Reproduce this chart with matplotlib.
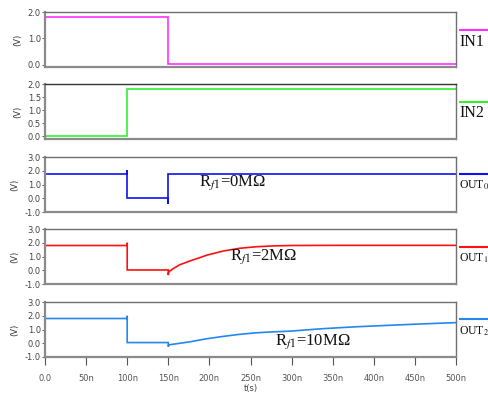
import matplotlib
matplotlib.use("Agg")
import matplotlib.pyplot as plt
from matplotlib.lines import Line2D

# ---- data (time in ns, voltage in V) ----
t_in1 = [0, 150, 150, 500]
v_in1 = [1.8, 1.8, 0.02, 0.02]

t_in2 = [0, 100, 100, 500]
v_in2 = [0.02, 0.02, 1.8, 1.8]

t_out0 = [0, 100, 100, 100, 150, 150, 150, 500]
v_out0 = [1.8, 1.8, 2.05, 0.0, 0.0, -0.4, 1.8, 1.8]

t_out1 = [0, 100, 100, 100, 150, 150, 150.5, 156, 164, 176, 189, 197, 217, 237, 257, 278, 300, 350, 400, 500]
v_out1 = [1.8, 1.8, 2.0, 0.02, 0.02, -0.35, -0.12, 0.12, 0.4, 0.67, 0.93, 1.1, 1.4, 1.6, 1.71, 1.77, 1.8, 1.81, 1.81, 1.81]

t_out2 = [0, 100, 100, 100, 150, 150, 150.5, 156, 176, 197, 217, 237, 257, 278, 298, 338, 379, 420, 460, 500]
v_out2 = [1.8, 1.8, 2.0, 0.05, 0.05, -0.25, -0.12, -0.07, 0.1, 0.33, 0.5, 0.65, 0.76, 0.83, 0.88, 1.06, 1.2, 1.31, 1.41, 1.5]

x_ticks = [0, 50, 100, 150, 200, 250, 300, 350, 400, 450, 500]
x_ticklabels = ["0.0", "50n", "100n", "150n", "200n", "250n", "300n", "350n", "400n", "450n", "500n"]

series = [
    (t_in1, v_in1, "#ff30ff", (-0.09, 2.0), [0, 1, 2], ["0.0", "1.0", "2.0"]),
    (t_in2, v_in2, "#30f030", (-0.1, 2.0), [0, 0.5, 1, 1.5, 2], ["0.0", "0.5", "1.0", "1.5", "2.0"]),
    (t_out0, v_out0, "#1010f0", (-1, 3), [-1, 0, 1, 2, 3], ["-1.0", "0.0", "1.0", "2.0", "3.0"]),
    (t_out1, v_out1, "#ff1010", (-1, 3), [-1, 0, 1, 2, 3], ["-1.0", "0.0", "1.0", "2.0", "3.0"]),
    (t_out2, v_out2, "#2288f0", (-1, 3), [-1, 0, 1, 2, 3], ["-1.0", "0.0", "1.0", "2.0", "3.0"]),
]

labels_right = ["IN1", "IN2", r"OUT$_0$", r"OUT$_1$", r"OUT$_2$"]
annots = [None, None, ("0M\u03a9", 199, 183), ("2M\u03a9", 230, 257), ("10M\u03a9", 275, 342)]

plt.rcParams['mathtext.fontset'] = 'stix'
W, H = 488, 393
fig = plt.figure(figsize=(W / 100, H / 100), dpi=100)

tick_font = dict(family=['Liberation Sans Narrow', 'DejaVu Sans'], size=6, color='#444444')
# panel (top, bottom) in pixels
panels_px = [(12, 67), (84, 139), (157, 212), (229, 284), (302, 357)]
left_px, right_px = 45, 456
line_y = [30, 102, 174, 246.5, 319]
text_y = [42, 113, 185.5, 258, 331]

for i, ((tt, vv, col, ylim, yt, ytl), (top, bot)) in enumerate(zip(series, panels_px)):
    ax = fig.add_axes([left_px / W, 1 - bot / H, (right_px - left_px) / W, (bot - top) / H])
    ax.plot(tt, vv, color=col, lw=1.2, solid_joinstyle='miter')
    ax.set_xlim(0, 500)
    ax.set_ylim(*ylim)
    ax.set_yticks(yt)
    ax.set_yticklabels(ytl, **tick_font)
    ax.tick_params(axis='y', length=2, width=0.6, pad=1, colors='#444444')
    for s in ax.spines.values():
        s.set_color('#707070')
        s.set_linewidth(1.0)
    if i == 1:
        ax.spines['top'].set_color('#333333')
    ax.spines['left'].set_linewidth(1.6)
    ax.spines['bottom'].set_linewidth(1.6)
    ax.spines['bottom'].set_color('#8a8a8a')
    ax.spines['left'].set_color('#8a8a8a')
    ax.set_ylabel("(V)", fontsize=6, family=['Liberation Sans Narrow', 'DejaVu Sans'], color='#333333', labelpad=4)
    ax.set_xticks(x_ticks)
    if i == 4:
        ax.set_xticklabels(x_ticklabels, **tick_font)
        ax.tick_params(axis='x', length=6, width=0.8, pad=6, colors='#555555')
        ax.set_xlabel("t(s)", fontsize=6, family=['Liberation Sans Narrow', 'DejaVu Sans'], color='#444444', labelpad=1)
    else:
        ax.tick_params(axis='x', length=0, labelbottom=False)

    # right-side legend segment and label
    fig.add_artist(Line2D([460 / W, 488 / W], [1 - line_y[i] / H] * 2, color=col, lw=1.5))
    fs = 11.5 if i < 2 else 8.5
    fig.text(459 / W, 1 - text_y[i] / H, labels_right[i], fontsize=fs, family='Liberation Serif',
             va='center', ha='left', color='#111111')
    if annots[i] is not None:
        txt, ax_px, ay_px = annots[i]
        fig.text(ax_px / W, 1 - ay_px / H, r"R$_{\mathit{f}\mathrm{1}}$=" + txt, fontsize=12,
                 family='Liberation Serif', va='center', ha='left', color='#111111')

fig.savefig("out.png", dpi=100)
